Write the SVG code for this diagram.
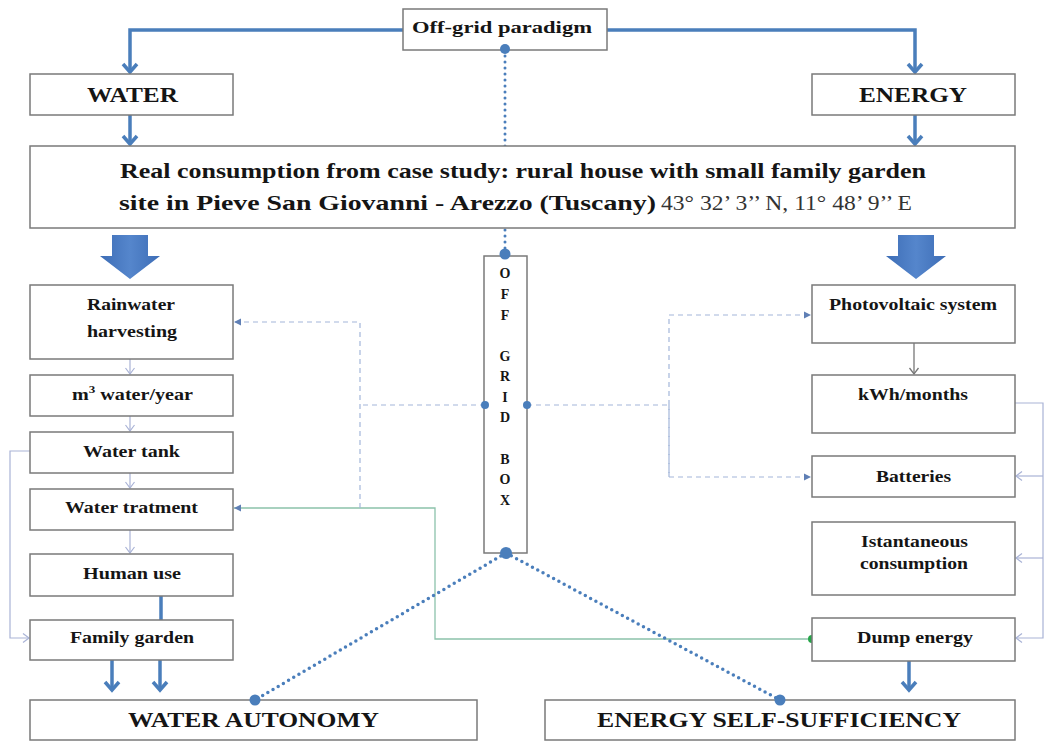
<svg xmlns="http://www.w3.org/2000/svg" width="1048" height="742" viewBox="0 0 1048 742">
<defs>
<style>
.box{fill:#fff;stroke:#7a7a7a;stroke-width:1.5}
.t{font-family:"Liberation Serif","Times New Roman",serif;font-weight:bold;fill:#151515}
.s{font-size:17px}
.thick{fill:none;stroke:#4a7ebb;stroke-width:3.5}
.thin{fill:none;stroke:#a9b3d6;stroke-width:1.2}
.dash{fill:none;stroke:#a3b6da;stroke-width:1.2;stroke-dasharray:5 4}
.dot{fill:none;stroke:#4a7ebb;stroke-width:3.5;stroke-linecap:round;stroke-dasharray:0 6}
.green{fill:none;stroke:#8cc2ab;stroke-width:1.3}
.blk{fill:url(#g)}
.c{text-anchor:middle}
</style>
<linearGradient id="g" x1="0" y1="0" x2="1" y2="0">
<stop offset="0" stop-color="#3d6db6"/>
<stop offset="0.5" stop-color="#5586cc"/>
<stop offset="1" stop-color="#3d6db6"/>
</linearGradient>
<marker id="vb" markerUnits="userSpaceOnUse" markerWidth="20" markerHeight="20" refX="10" refY="10" orient="auto">
<path d="M2,3 L10,10 L2,17" fill="none" stroke="#4a7ebb" stroke-width="3.5"/>
</marker>
<marker id="vt" markerUnits="userSpaceOnUse" markerWidth="12" markerHeight="12" refX="9" refY="6" orient="auto">
<path d="M3,1.5 L9,6 L3,10.5" fill="none" stroke="#a9b3d6" stroke-width="1.2"/>
</marker>
<marker id="vg" markerUnits="userSpaceOnUse" markerWidth="12" markerHeight="12" refX="9" refY="6" orient="auto">
<path d="M3,1.5 L9,6 L3,10.5" fill="none" stroke="#777" stroke-width="1.3"/>
</marker>
<marker id="ft" markerUnits="userSpaceOnUse" markerWidth="10" markerHeight="10" refX="8" refY="5" orient="auto">
<path d="M1,1.5 L8,5 L1,8.5 Z" fill="#5f7fb5"/>
</marker>
</defs>

<g id="connectors">
<polyline class="thick" points="403,30 130,30 130,72" marker-end="url(#vb)"/>
<polyline class="thick" points="607,30 915,30 915,72" marker-end="url(#vb)"/>
<line class="thick" x1="130" y1="115" x2="130" y2="144" marker-end="url(#vb)"/>
<line class="thick" x1="915" y1="115" x2="915" y2="144" marker-end="url(#vb)"/>
<line x1="505" y1="50" x2="505" y2="253" stroke="#4a7ebb" stroke-width="3" stroke-linecap="round" stroke-dasharray="0 6"/>
<polygon class="blk" points="112,235 148,235 148,256 160,256 130,279 100,256 112,256"/>
<polygon class="blk" points="898,235 934,235 934,256 946,256 916,279 886,256 898,256"/>
<line class="thin" x1="130" y1="359" x2="130" y2="374" marker-end="url(#vt)"/>
<line class="thin" x1="130" y1="416" x2="130" y2="431" marker-end="url(#vt)"/>
<line class="thin" x1="130" y1="473" x2="130" y2="488" marker-end="url(#vt)"/>
<line class="thin" x1="130" y1="530" x2="130" y2="553" marker-end="url(#vt)"/>
<polyline class="thin" points="30,451 10,451 10,638 29,638" marker-end="url(#vt)"/>
<line class="thick" x1="161" y1="596" x2="161" y2="620"/>
<line class="thick" x1="112" y1="660" x2="112" y2="690" marker-end="url(#vb)"/>
<line class="thick" x1="160" y1="660" x2="160" y2="690" marker-end="url(#vb)"/>
<line x1="914" y1="343" x2="914" y2="374" stroke="#777" stroke-width="1.3" marker-end="url(#vg)"/>
<polyline class="thin" points="1015,403 1043,403 1043,638 1016,638" marker-end="url(#vt)"/>
<line class="thin" x1="1043" y1="476" x2="1016" y2="476" marker-end="url(#vt)"/>
<line class="thin" x1="1043" y1="558" x2="1016" y2="558" marker-end="url(#vt)"/>
<line class="thick" x1="909" y1="661" x2="909" y2="690" marker-end="url(#vb)"/>
<polyline class="green" points="812,639 435,639 435,508 234,508" marker-end="url(#ft)"/>
<circle cx="812" cy="639" r="4" fill="#25a548"/>
<polyline class="dash" points="485,405 360,405"/>
<polyline class="dash" points="360,508 360,322 234,322" marker-end="url(#ft)"/>
<polyline class="dash" points="527,405 669,405"/>
<polyline class="dash" points="669,477 669,315 811,315" marker-end="url(#ft)"/>
<polyline class="dash" points="669,405 669,477 811,477" marker-end="url(#ft)"/>
<line class="dot" x1="506" y1="553" x2="255" y2="700"/>
<line class="dot" x1="506" y1="553" x2="780" y2="700"/>
</g>

<g id="big-box">
<rect class="box" x="30" y="146" width="985" height="82"/>
<text class="t" x="120" y="178" font-size="22" textLength="806" lengthAdjust="spacingAndGlyphs">Real consumption from case study: rural house with small family garden</text>
<text class="t" x="119" y="210" font-size="22" textLength="537" lengthAdjust="spacingAndGlyphs">site in Pieve San Giovanni - Arezzo (Tuscany)</text>
<text x="661" y="210" font-size="22" font-family="Liberation Serif, Times New Roman, serif" fill="#333" textLength="251" lengthAdjust="spacingAndGlyphs">43° 32’ 3’’ N, 11° 48’ 9’’ E</text>
</g>

<g id="offgrid-paradigm">
<rect class="box" x="403" y="9" width="204" height="41"/>
<text class="t" x="412" y="33" font-size="17" textLength="180" lengthAdjust="spacingAndGlyphs">Off-grid paradigm</text>
<circle cx="505" cy="49" r="5" fill="#4a7ebb"/>
</g>

<g id="water">
<rect class="box" x="30" y="74" width="203" height="41"/>
<text class="t" x="87" y="102" font-size="20" textLength="91" lengthAdjust="spacingAndGlyphs">WATER</text>
</g>

<g id="energy">
<rect class="box" x="812" y="74" width="203" height="41"/>
<text class="t" x="859" y="102" font-size="20" textLength="108" lengthAdjust="spacingAndGlyphs">ENERGY</text>
</g>

<g id="offgrid-box">
<rect class="box" x="484" y="256" width="43" height="297"/>
<g class="t c" font-size="14">
<text x="505" y="278">O</text>
<text x="505" y="299">F</text>
<text x="505" y="320">F</text>
<text x="505" y="361">G</text>
<text x="505" y="381">R</text>
<text x="505" y="402">I</text>
<text x="505" y="422">D</text>
<text x="505" y="464">B</text>
<text x="505" y="484">O</text>
<text x="505" y="505">X</text>
</g>
<circle cx="505" cy="254" r="5.5" fill="#4a7ebb"/>
<circle cx="485" cy="405" r="4" fill="#4a7ebb"/>
<circle cx="527" cy="405" r="4" fill="#4a7ebb"/>
<circle cx="506" cy="553" r="6" fill="#4a7ebb"/>
</g>

<g id="rainwater">
<rect class="box" x="30" y="285" width="203" height="74"/>
<text class="t s" x="87" y="310" textLength="88" lengthAdjust="spacingAndGlyphs">Rainwater</text>
<text class="t s" x="87" y="337" textLength="90" lengthAdjust="spacingAndGlyphs">harvesting</text>
</g>
<g id="m3-water">
<rect class="box" x="30" y="375" width="203" height="41"/>
<text class="t s" x="72" y="400" textLength="121" lengthAdjust="spacingAndGlyphs">m<tspan font-size="11" dy="-7">3</tspan><tspan dy="7"> water/year</tspan></text>
</g>
<g id="water-tank">
<rect class="box" x="30" y="432" width="203" height="41"/>
<text class="t s" x="83" y="457" textLength="97" lengthAdjust="spacingAndGlyphs">Water tank</text>
</g>
<g id="water-treatment">
<rect class="box" x="30" y="489" width="203" height="41"/>
<text class="t s" x="65" y="513" textLength="133" lengthAdjust="spacingAndGlyphs">Water tratment</text>
</g>
<g id="human-use">
<rect class="box" x="30" y="554" width="203" height="42"/>
<text class="t s" x="83" y="579" textLength="98" lengthAdjust="spacingAndGlyphs">Human use</text>
</g>
<g id="family-garden">
<rect class="box" x="30" y="620" width="203" height="40"/>
<text class="t s" x="70" y="643" textLength="124" lengthAdjust="spacingAndGlyphs">Family garden</text>
</g>

<g id="pv">
<rect class="box" x="812" y="285" width="203" height="58"/>
<text class="t s" x="829" y="310" textLength="168" lengthAdjust="spacingAndGlyphs">Photovoltaic system</text>
</g>
<g id="kwh">
<rect class="box" x="812" y="375" width="203" height="58"/>
<text class="t s" x="858" y="400" textLength="110" lengthAdjust="spacingAndGlyphs">kWh/months</text>
</g>
<g id="batteries">
<rect class="box" x="812" y="456" width="203" height="41"/>
<text class="t s" x="876" y="482" textLength="75" lengthAdjust="spacingAndGlyphs">Batteries</text>
</g>
<g id="instantaneous">
<rect class="box" x="812" y="522" width="203" height="73"/>
<text class="t s" x="861" y="547" textLength="107" lengthAdjust="spacingAndGlyphs">Istantaneous</text>
<text class="t s" x="860" y="569" textLength="108" lengthAdjust="spacingAndGlyphs">consumption</text>
</g>
<g id="dump">
<rect class="box" x="812" y="618" width="203" height="43"/>
<text class="t s" x="857" y="643" textLength="116" lengthAdjust="spacingAndGlyphs">Dump energy</text>
</g>

<g id="water-autonomy">
<rect class="box" x="30" y="700" width="447" height="40"/>
<text class="t" x="128" y="727" font-size="22" textLength="251" lengthAdjust="spacingAndGlyphs">WATER AUTONOMY</text>
<circle cx="255" cy="700" r="5.5" fill="#4a7ebb"/>
</g>
<g id="energy-self">
<rect class="box" x="545" y="700" width="470" height="40"/>
<text class="t" x="597" y="727" font-size="22" textLength="364" lengthAdjust="spacingAndGlyphs">ENERGY SELF-SUFFICIENCY</text>
<circle cx="780" cy="700" r="5.5" fill="#4a7ebb"/>
</g>
</svg>
